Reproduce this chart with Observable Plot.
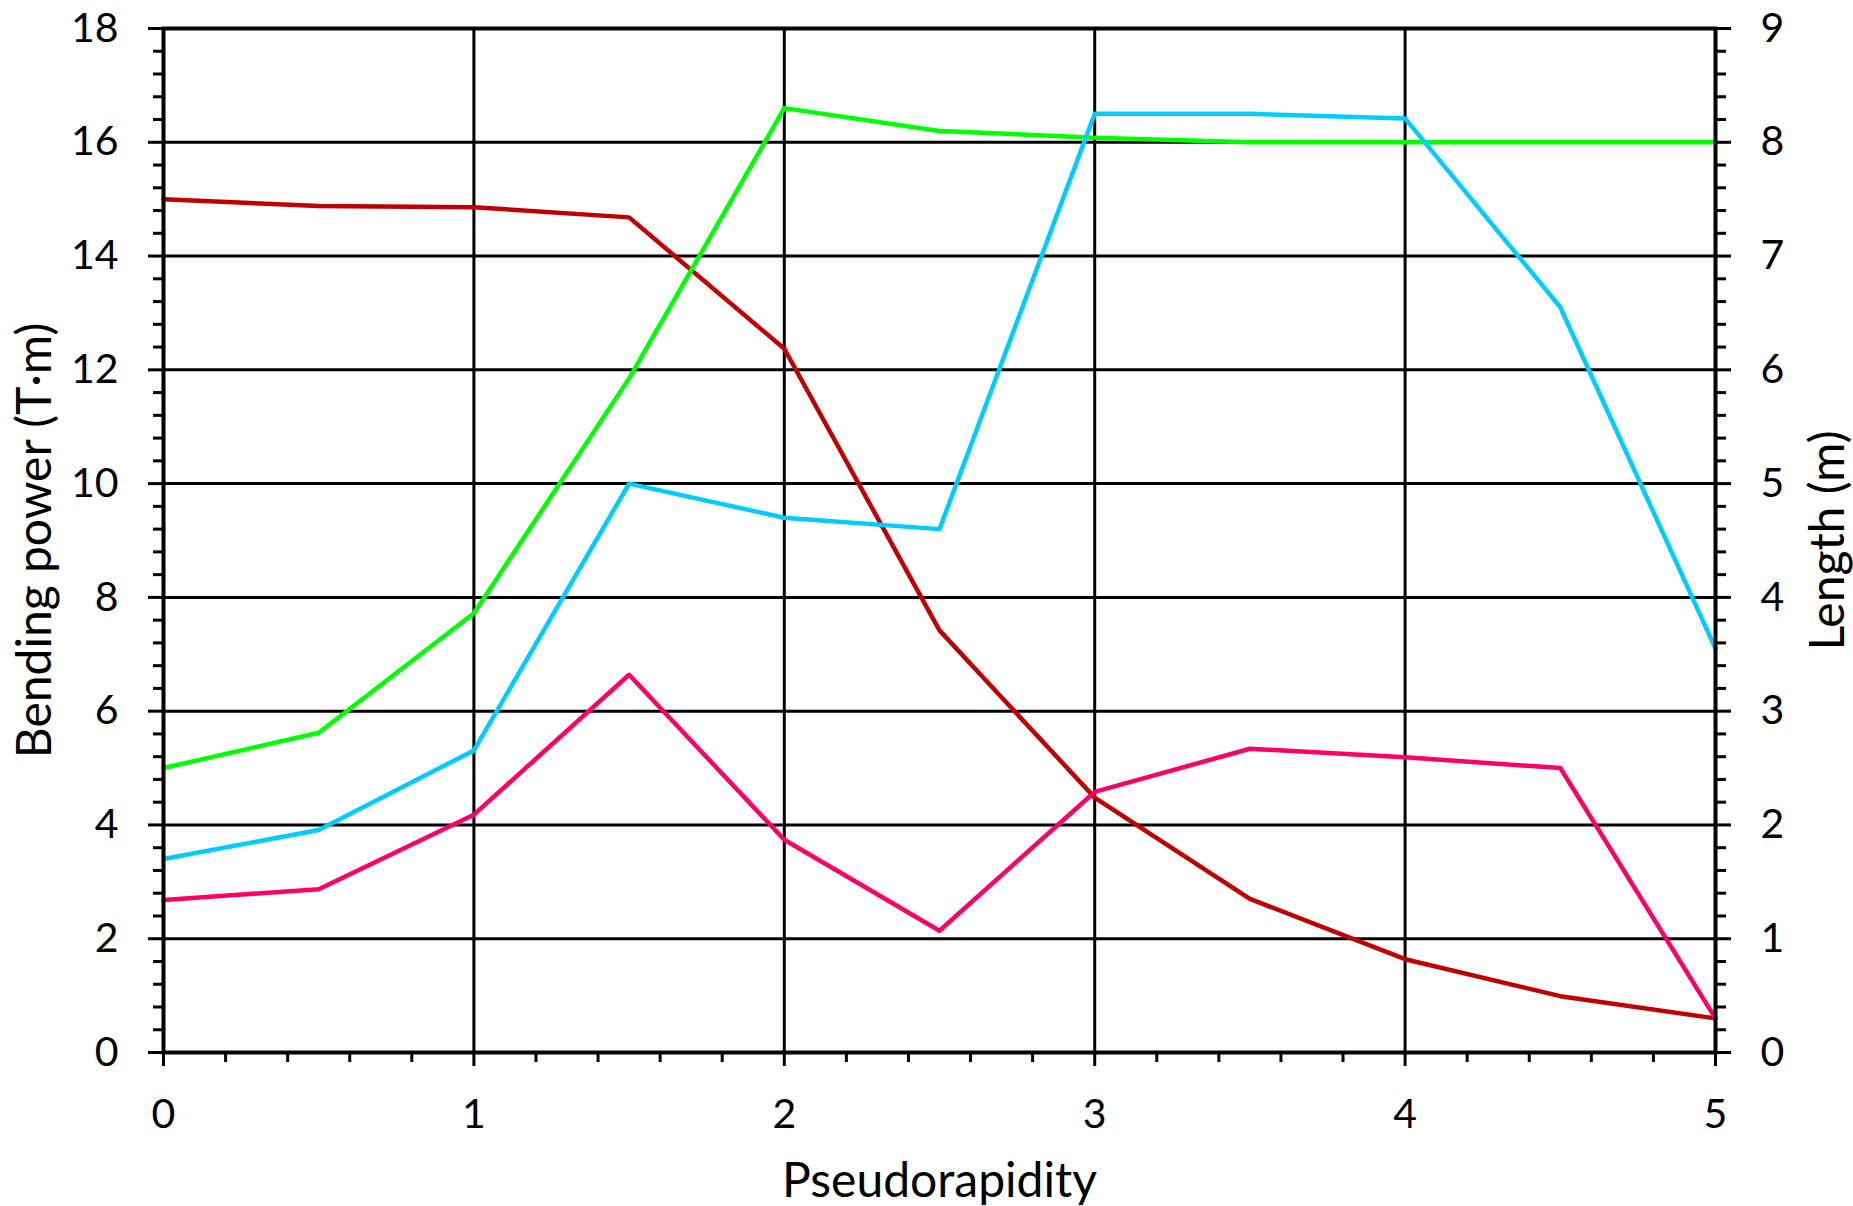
<!DOCTYPE html>
<html>
<head>
<meta charset="utf-8">
<script src="https://cdn.jsdelivr.net/npm/d3@7"></script>
<script src="https://cdn.jsdelivr.net/npm/@observablehq/plot@0.6"></script>
<style>
  html, body { margin: 0; padding: 0; background: white; }
</style>
</head>
<body>
<div id="chart"></div>
<script>
// Pseudorapidity samples
const eta = [0, 0.5, 1, 1.5, 2, 2.5, 3, 3.5, 4, 4.5, 5];
// Series values, read on the left (Bending power, T·m) scale
const redSeries     = [15.0, 14.88, 14.86, 14.68, 12.37, 7.42, 4.48, 2.7, 1.64, 0.99, 0.6];
const greenSeries   = [5.0, 5.62, 7.72, 11.85, 16.6, 16.2, 16.08, 16.0, 16.0, 16.0, 16.0];
const cyanSeries    = [3.4, 3.91, 5.31, 10.0, 9.4, 9.2, 16.5, 16.5, 16.42, 13.1, 7.1];
const magentaSeries = [2.68, 2.87, 4.18, 6.64, 3.74, 2.14, 4.58, 5.34, 5.19, 5.0, 0.6];

const seriesColors = ["#C00000", "#00FF00", "#00CCFF", "#FF0066"];
const seriesList = [redSeries, greenSeries, cyanSeries, magentaSeries];

// Tick labels / gridlines
const xMajor = [0, 1, 2, 3, 4, 5];
const xMinor = d3.range(0, 5.001, 0.2).filter(v => Math.abs(v - Math.round(v)) > 1e-6);
const yMajor = [0, 2, 4, 6, 8, 10, 12, 14, 16, 18];
const yMinor = d3.range(0, 18.001, 0.4).filter(v => Math.abs(v / 2 - Math.round(v / 2)) > 1e-6);
const hGrid = [2, 4, 6, 8, 10, 12, 14, 16];
const vGrid = [1, 2, 3, 4];

const xLabel = "Pseudorapidity";
const yLeftLabel = "Bending power (T·m)";
const yRightLabel = "Length (m)";

const lineMarks = seriesList.map((vals, k) =>
  Plot.line(eta.map((x, i) => ({x, y: vals[i]})), {
    x: "x", y: "y", stroke: seriesColors[k], strokeWidth: 4.5, strokeLinejoin: "round"
  })
);

const chart = Plot.plot({
  width: 1853,
  height: 1206,
  marginLeft: 163,
  marginRight: 138,
  marginTop: 28,
  marginBottom: 154,
  style: {fontFamily: "Lato, 'Open Sans', sans-serif", fontSize: "40px", background: "white", color: "black"},
  x: {domain: [0, 5]},
  y: {domain: [0, 18]},
  marks: [
    Plot.ruleY(hGrid, {stroke: "black", strokeWidth: 3}),
    Plot.ruleX(vGrid, {stroke: "black", strokeWidth: 3}),
    ...lineMarks,
    Plot.frame({stroke: "black", strokeWidth: 4}),
    Plot.axisX(xMajor, {tickSize: 14, tickPadding: 32, strokeWidth: 3, fontSize: 41, label: null, tickFormat: d => String(d)}),
    Plot.axisX(xMinor, {tickSize: 10, strokeWidth: 3, tickFormat: () => "", label: null}),
    Plot.axisY(yMajor, {anchor: "left", tickSize: 15, tickPadding: 30, strokeWidth: 3, fontSize: 41, label: null, tickFormat: d => String(d)}),
    Plot.axisY(yMinor, {anchor: "left", tickSize: 10, strokeWidth: 3, tickFormat: () => "", label: null}),
    Plot.axisY(yMajor, {anchor: "right", tickSize: 15, tickPadding: 30, strokeWidth: 3, fontSize: 41, label: null, tickFormat: d => String(d / 2)}),
    Plot.axisY(yMinor, {anchor: "right", tickSize: 10, strokeWidth: 3, tickFormat: () => "", label: null}),
    Plot.text([xLabel], {text: d => d, frameAnchor: "bottom", dy: 129, textAnchor: "middle", lineAnchor: "middle", fontSize: 48}),
    Plot.text([yLeftLabel], {text: d => d, frameAnchor: "left", dx: -128, rotate: -90, textAnchor: "middle", lineAnchor: "middle", fontSize: 48}),
    Plot.text([yRightLabel], {text: d => d, frameAnchor: "right", dx: 113, rotate: -90, textAnchor: "middle", lineAnchor: "middle", fontSize: 48})
  ]
});

document.getElementById("chart").appendChild(chart);
</script>
</body>
</html>
